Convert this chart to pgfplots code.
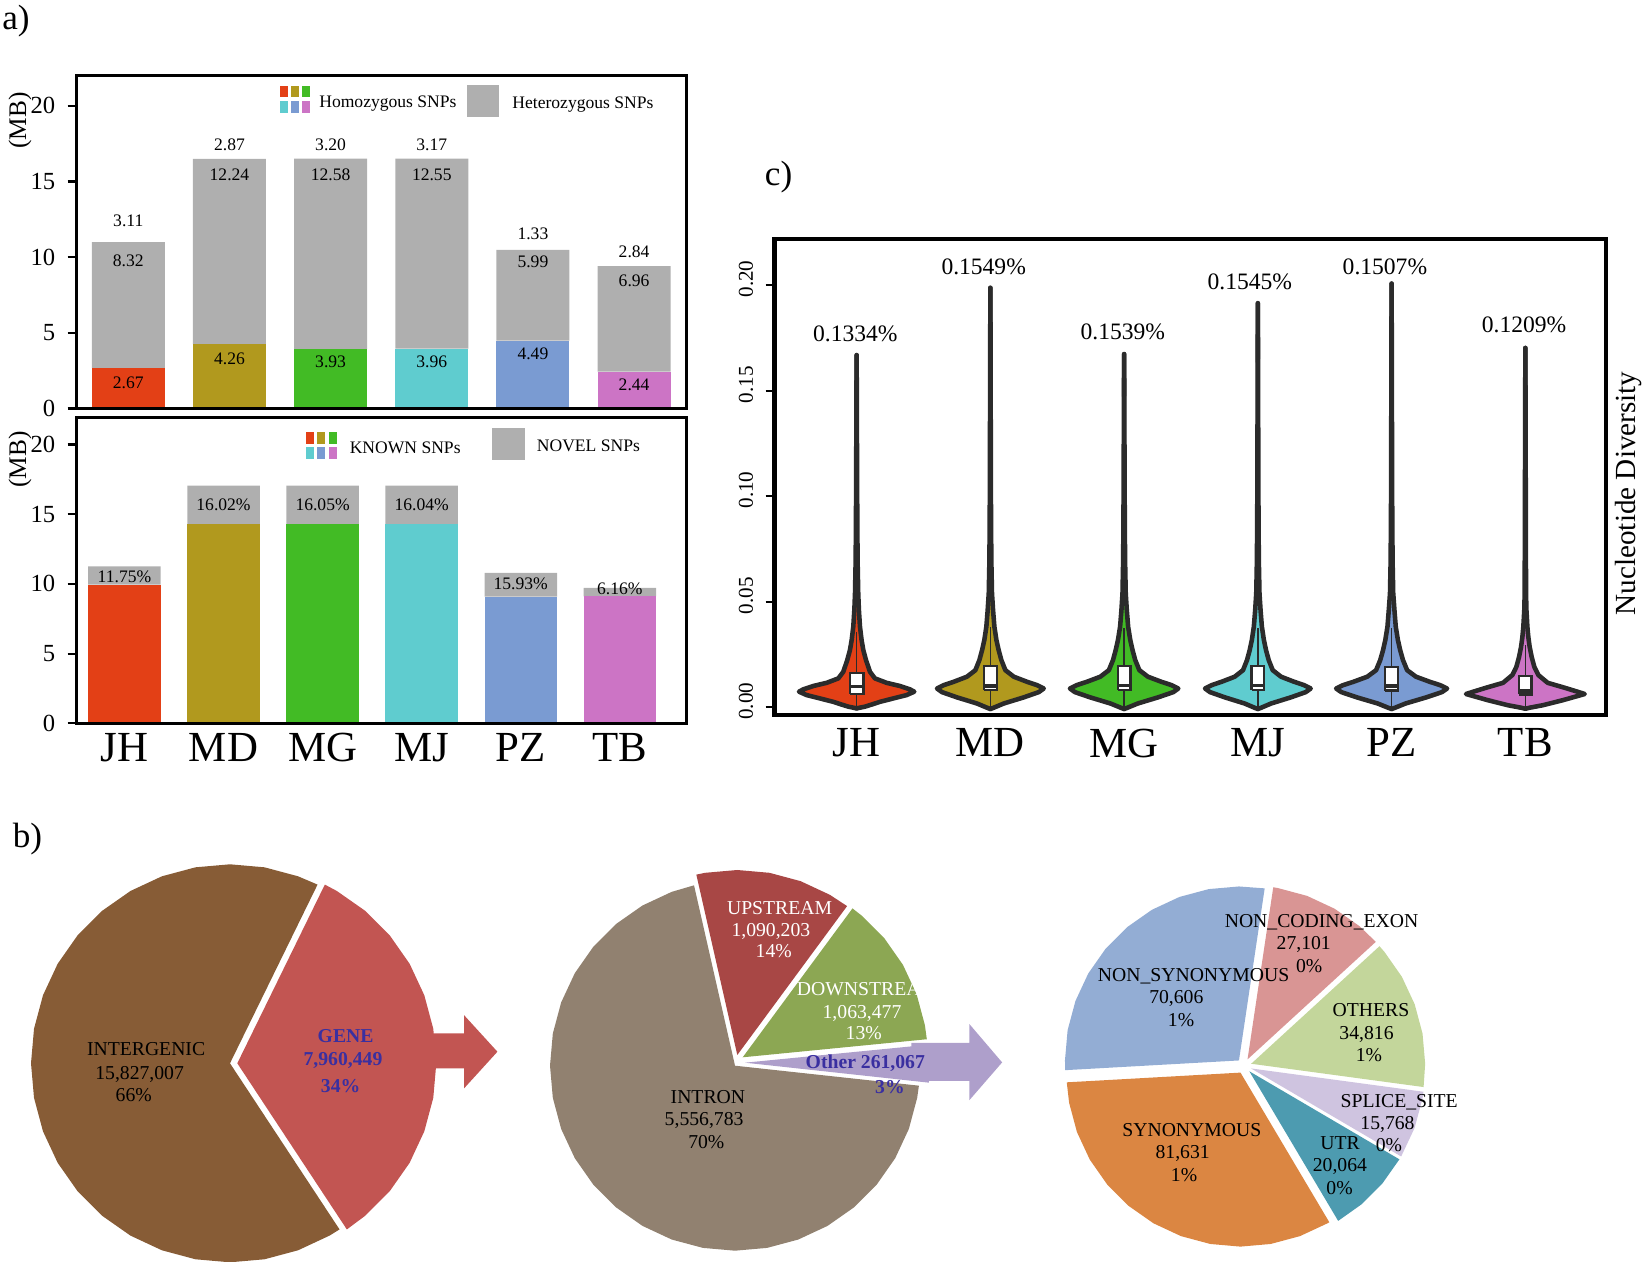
\documentclass[border=0pt]{standalone}
\usepackage{fontspec}
\setmainfont{Liberation Serif}
\usepackage{pgfplots}
\usepackage{pgfplotstable}
\pgfplotsset{compat=1.18}
\usepgfplotslibrary{polar}

\definecolor{cJH}{HTML}{E34016}
\definecolor{cMD}{HTML}{B1991E}
\definecolor{cMG}{HTML}{42BB25}
\definecolor{cMJ}{HTML}{5FCCCF}
\definecolor{cPZ}{HTML}{7A9BD2}
\definecolor{cTB}{HTML}{CC74C5}
\definecolor{cgray}{HTML}{AFAFAF}
\definecolor{vline}{HTML}{2B2B2B}
\definecolor{inter}{HTML}{875C36}
\definecolor{gene}{HTML}{C25552}
\definecolor{bluetxt}{HTML}{3A2FA0}
\definecolor{intron}{HTML}{918170}
\definecolor{upst}{HTML}{A84745}
\definecolor{downst}{HTML}{8CA753}
\definecolor{other}{HTML}{AE9FCB}
\definecolor{nsyn}{HTML}{93ADD4}
\definecolor{nce}{HTML}{D99594}
\definecolor{oth}{HTML}{C3D69B}
\definecolor{ssite}{HTML}{CFC4E0}
\definecolor{utr}{HTML}{4D9BB0}
\definecolor{syn}{HTML}{DB8642}

% violin outlines: y and half width (category units)
\pgfplotstableread{
y w
-0.0006 0
0.0002 0.062
0.0017 0.137
0.0025 0.175
0.0041 0.274
0.0057 0.374
0.0073 0.431
0.0084 0.399
0.0100 0.324
0.0115 0.224
0.0136 0.137
0.0167 0.100
0.0223 0.070
0.0270 0.050
0.0318 0.037
0.0381 0.025
0.0460 0.017
0.0539 0.012
0.0700 0.007
0.1000 0.004
0.1668 0
}\vJH
\pgfplotstableread{
y w
-0.0009 0
-0.0003 0.025
0.0017 0.100
0.0046 0.249
0.0071 0.362
0.0088 0.399
0.0104 0.349
0.0120 0.274
0.0144 0.175
0.0175 0.112
0.0223 0.082
0.0270 0.062
0.0318 0.045
0.0381 0.030
0.0460 0.020
0.0540 0.012
0.0700 0.007
0.1000 0.004
0.1987 0
}\vMD
\pgfplotstableread{
y w
-0.0009 0
-0.0003 0.025
0.0017 0.102
0.0046 0.253
0.0071 0.368
0.0088 0.405
0.0104 0.355
0.0120 0.278
0.0144 0.178
0.0175 0.114
0.0223 0.083
0.0270 0.063
0.0318 0.046
0.0381 0.030
0.0460 0.020
0.0540 0.012
0.0700 0.007
0.1000 0.004
0.1673 0
}\vMG
\pgfplotstableread{
y w
-0.0009 0
-0.0003 0.025
0.0017 0.099
0.0046 0.246
0.0071 0.358
0.0088 0.395
0.0104 0.346
0.0120 0.271
0.0144 0.173
0.0175 0.111
0.0223 0.081
0.0270 0.061
0.0318 0.045
0.0381 0.030
0.0460 0.020
0.0540 0.012
0.0700 0.007
0.1000 0.004
0.1914 0
}\vMJ
\pgfplotstableread{
y w
-0.0009 0
-0.0003 0.026
0.0017 0.104
0.0046 0.259
0.0071 0.376
0.0088 0.415
0.0104 0.363
0.0120 0.285
0.0144 0.182
0.0175 0.116
0.0223 0.085
0.0270 0.064
0.0318 0.047
0.0381 0.031
0.0460 0.021
0.0540 0.012
0.0700 0.007
0.1000 0.004
0.2007 0
}\vPZ
\pgfplotstableread{
y w
-0.0008 0
-0.0003 0.032
0.0009 0.132
0.0033 0.282
0.0062 0.444
0.0076 0.374
0.0092 0.292
0.0115 0.167
0.0152 0.097
0.0191 0.067
0.0238 0.047
0.0286 0.032
0.0333 0.022
0.0381 0.015
0.0460 0.008
0.0540 0.005
0.1000 0.003
0.1702 0
}\vTB

\tikzset{
  lbl/.style={font=\fontsize{5}{6}\selectfont, text depth=0pt, inner sep=0pt},
  pl/.style={font=\fontsize{5.6}{6.5}\selectfont, text depth=0pt, inner sep=0pt},
  pb/.style={font=\fontsize{5.6}{6.5}\selectfont\bfseries, text depth=0pt, inner sep=0pt, text=bluetxt},
  vl/.style={font=\fontsize{6.7}{8}\selectfont, text depth=0pt, inner sep=0pt},
}
\pgfplotsset{
  /pgf/number format/assume math mode=true,
  barpanel/.style={
    scale only axis, anchor=south west, width=6.10cm,
    ybar stacked, bar width=0.73cm,
    xmin=-0.51, xmax=5.52, ymin=0,
    ytick={0,5,10,15,20}, ytick pos=left, tick align=outside,
    major tick length=0.09cm, axis on top,
    axis line style={line width=0.85pt},
    xtick style={draw=none},
    major tick style={line width=0.6pt, black},
    yticklabel style={font=\fontsize{7}{8}\selectfont},
  },
  pie/.style={scale only axis, anchor=center, hide axis, ymin=0, ymax=1, clip=false},
  vout/.style={draw=vline, line width=1.3pt, line join=round, line cap=round},
  wsk/.style={draw=vline, line width=0.45pt},
  bx/.style={draw=vline, fill=white, line width=0.65pt},
  med/.style={draw=vline, line width=0.9pt},
}

% violin: table, position, colour (each half filled, closed along the centre line)
\newcommand{\violin}[3]{%
  \addplot[fill=#3, draw=none] table[x expr=#2+\thisrow{w}, y=y] {#1};
  \addplot[fill=#3, draw=none] table[x expr=#2-\thisrow{w}+0.004, y=y] {#1};
  \addplot[vout] table[x expr=#2+\thisrow{w}, y=y] {#1};
  \addplot[vout] table[x expr=#2-\thisrow{w}, y=y] {#1};
}
% pie slice: centre x, centre y (cm), diameter (cm), colour, polar coordinates
\newcommand{\slice}[5]{%
  \begin{polaraxis}[pie, at={(#1cm,#2cm)}, width=#3cm, height=#3cm]
    \addplot[fill=#4, draw=none] coordinates {#5};
  \end{polaraxis}%
}

\begin{document}
\begin{tikzpicture}
\path[use as bounding box] (0,0) rectangle (16.46cm,12.62cm);

% ---------- a) top: homozygous / heterozygous ----------
\begin{axis}[barpanel, at={(0.767cm,8.535cm)}, height=3.329cm, ymax=22.0, xtick=\empty,
  after end axis/.code={
    \node[lbl] at (axis cs:0,1.69) {2.67};
    \node[lbl] at (axis cs:1,3.26) {4.26};
    \node[lbl] at (axis cs:2,3.08) {3.93};
    \node[lbl] at (axis cs:3,3.08) {3.96};
    \node[lbl] at (axis cs:4,3.59) {4.49};
    \node[lbl] at (axis cs:5,1.59) {2.44};
    \node[lbl] at (axis cs:0,9.76) {8.32};
    \node[lbl] at (axis cs:1,15.48) {12.24};
    \node[lbl] at (axis cs:2,15.48) {12.58};
    \node[lbl] at (axis cs:3,15.48) {12.55};
    \node[lbl] at (axis cs:4,9.68) {5.99};
    \node[lbl] at (axis cs:5,8.42) {6.96};
    \node[lbl] at (axis cs:0,12.39) {3.11};
    \node[lbl] at (axis cs:1,17.46) {2.87};
    \node[lbl] at (axis cs:2,17.46) {3.20};
    \node[lbl] at (axis cs:3,17.46) {3.17};
    \node[lbl] at (axis cs:4,11.57) {1.33};
    \node[lbl] at (axis cs:5,10.36) {2.84};
  }]
  \addplot[fill=cJH, draw=none] coordinates {(0,2.67) (1,0) (2,0) (3,0) (4,0) (5,0)};
  \addplot[fill=cMD, draw=none] coordinates {(0,0) (1,4.26) (2,0) (3,0) (4,0) (5,0)};
  \addplot[fill=cMG, draw=none] coordinates {(0,0) (1,0) (2,3.93) (3,0) (4,0) (5,0)};
  \addplot[fill=cMJ, draw=none] coordinates {(0,0) (1,0) (2,0) (3,3.96) (4,0) (5,0)};
  \addplot[fill=cPZ, draw=none] coordinates {(0,0) (1,0) (2,0) (3,0) (4,4.49) (5,0)};
  \addplot[fill=cTB, draw=none] coordinates {(0,0) (1,0) (2,0) (3,0) (4,0) (5,2.44)};
  \addplot[fill=cgray, draw=none] coordinates {(0,8.32) (1,12.24) (2,12.58) (3,12.55) (4,5.99) (5,6.96)};
\end{axis}

% ---------- a) bottom: known / novel ----------
\begin{axis}[barpanel, at={(0.767cm,5.387cm)}, height=3.06cm, ymax=21.95,
    xmin=-0.482, xmax=5.675, bar width=0.725cm,
    axis line style={line width=0.95pt},
    xtick={0,1,2,3,4,5}, xticklabels={JH,MD,MG,MJ,PZ,TB},
    xticklabel style={font=\fontsize{12.2}{14}\selectfont, inner sep=0pt, text depth=0pt, anchor=north, yshift=-0.05mm},
  after end axis/.code={
    \node[lbl] at (axis cs:0,10.55) {11.75\%};
    \node[lbl] at (axis cs:1,15.67) {16.02\%};
    \node[lbl] at (axis cs:2,15.67) {16.05\%};
    \node[lbl] at (axis cs:3,15.67) {16.04\%};
    \node[lbl] at (axis cs:4,10.00) {15.93\%};
    \node[lbl] at (axis cs:5,9.68) {6.16\%};
  }]
  \addplot[fill=cJH, draw=none] coordinates {(0,9.95) (1,0) (2,0) (3,0) (4,0) (5,0)};
  \addplot[fill=cMD, draw=none] coordinates {(0,0) (1,14.30) (2,0) (3,0) (4,0) (5,0)};
  \addplot[fill=cMG, draw=none] coordinates {(0,0) (1,0) (2,14.30) (3,0) (4,0) (5,0)};
  \addplot[fill=cMJ, draw=none] coordinates {(0,0) (1,0) (2,0) (3,14.30) (4,0) (5,0)};
  \addplot[fill=cPZ, draw=none] coordinates {(0,0) (1,0) (2,0) (3,0) (4,9.09) (5,0)};
  \addplot[fill=cTB, draw=none] coordinates {(0,0) (1,0) (2,0) (3,0) (4,0) (5,9.11)};
  \addplot[fill=cgray, draw=none] coordinates {(0,1.31) (1,2.75) (2,2.75) (3,2.75) (4,1.70) (5,0.60)};
\end{axis}

% ---------- c) violins ----------
\begin{axis}[scale only axis, anchor=south west, at={(7.745cm,5.473cm)},
    width=8.311cm, height=4.754cm,
    xmin=-0.614, xmax=5.60, ymin=-0.0036, ymax=0.2217,
    xtick={0,1,2,3,4,5}, xticklabels={JH,MD,MG,MJ,PZ,TB},
    xtick style={draw=none},
    xticklabel style={font=\fontsize{12.2}{14}\selectfont, inner sep=0pt, text depth=0pt, anchor=north, yshift=-0.43mm},
    ytick={0,0.05,0.1,0.15,0.2}, ytick pos=left, tick align=outside,
    major tick length=0.09cm, major tick style={line width=0.6pt, black},
    yticklabel style={rotate=90, anchor=south, xshift=0.6mm, font=\fontsize{6}{7}\selectfont,
      /pgf/number format/fixed, /pgf/number format/fixed zerofill, /pgf/number format/precision=2},
    axis line style={line width=1.15pt}, axis on top]
  \violin{\vJH}{0}{cJH}
  \violin{\vMD}{1}{cMD}
  \violin{\vMG}{2}{cMG}
  \violin{\vMJ}{3}{cMJ}
  \violin{\vPZ}{4}{cPZ}
  \violin{\vTB}{5}{cTB}
  % box plots: whisker, box (q1 to q3), median
  \addplot[wsk] coordinates {(0,-0.0006) (0,0.0357)};
  \addplot[bx] coordinates {(-0.052,0.0062) (0.052,0.0062) (0.052,0.0163) (-0.052,0.0163) (-0.052,0.0062)};
  \addplot[med] coordinates {(-0.052,0.0096) (0.052,0.0096)};
  \addplot[wsk] coordinates {(1,-0.0009) (1,0.0380)};
  \addplot[bx] coordinates {(0.953,0.0081) (1.047,0.0081) (1.047,0.0194) (0.953,0.0194) (0.953,0.0081)};
  \addplot[med] coordinates {(0.953,0.0100) (1.047,0.0100)};
  \addplot[wsk] coordinates {(2,-0.0009) (2,0.0375)};
  \addplot[bx] coordinates {(1.953,0.0081) (2.047,0.0081) (2.047,0.0194) (1.953,0.0194) (1.953,0.0081)};
  \addplot[med] coordinates {(1.953,0.0102) (2.047,0.0102)};
  \addplot[wsk] coordinates {(3,-0.0009) (3,0.0375)};
  \addplot[bx] coordinates {(2.953,0.0081) (3.047,0.0081) (3.047,0.0194) (2.953,0.0194) (2.953,0.0081)};
  \addplot[med] coordinates {(2.953,0.0102) (3.047,0.0102)};
  \addplot[wsk] coordinates {(4,-0.0009) (4,0.0375)};
  \addplot[bx] coordinates {(3.953,0.0078) (4.047,0.0078) (4.047,0.0190) (3.953,0.0190) (3.953,0.0078)};
  \addplot[med] coordinates {(3.953,0.0100) (4.047,0.0100)};
  \addplot[wsk] coordinates {(5,-0.0008) (5,0.0294)};
  \addplot[bx] coordinates {(4.955,0.0060) (5.045,0.0060) (5.045,0.0147) (4.955,0.0147) (4.955,0.0060)};
  \addplot[med] coordinates {(4.955,0.0076) (5.045,0.0076)};
  \node[vl] at (axis cs:-0.01,0.1771) {0.1334\%};
  \node[vl] at (axis cs:0.95,0.2087) {0.1549\%};
  \node[vl] at (axis cs:1.99,0.1779) {0.1539\%};
  \node[vl] at (axis cs:2.94,0.2016) {0.1545\%};
  \node[vl] at (axis cs:3.95,0.2087) {0.1507\%};
  \node[vl] at (axis cs:4.99,0.1810) {0.1209\%};
\end{axis}

% ---------- b) pies ----------
\slice{2.30}{1.987}{3.98}{inter}{(0,0) (63.9,1) (70,1) (80,1) (90,1) (100,1) (110,1) (120,1) (130,1) (140,1) (150,1) (160,1) (170,1) (180,1) (190,1) (200,1) (210,1) (220,1) (230,1) (240,1) (250,1) (260,1) (270,1) (280,1) (290,1) (300,1) (303.4,1)}
\slice{2.373}{1.987}{3.98}{gene}{(0,0) (-56.6,1) (-50,1) (-40,1) (-30,1) (-20,1) (-10,1) (0,1) (10,1) (20,1) (30,1) (40,1) (50,1) (60,1) (63.9,1)}

\slice{7.35}{1.963}{3.70}{intron}{(0,0) (102.8,1) (110,1) (120,1) (130,1) (140,1) (150,1) (160,1) (170,1) (180,1) (190,1) (200,1) (210,1) (220,1) (230,1) (240,1) (250,1) (260,1) (270,1) (280,1) (290,1) (300,1) (310,1) (320,1) (330,1) (340,1) (350,1) (353.8,1)}
\slice{7.373}{2.070}{3.70}{upst}{(0,0) (53.6,1) (60,1) (70,1) (80,1) (90,1) (100,1) (102.8,1)}
\slice{7.427}{2.047}{3.70}{downst}{(0,0) (5.6,1) (10,1) (20,1) (30,1) (40,1) (50,1) (53.6,1)}
\slice{7.45}{1.993}{3.70}{other}{(0,0) (-6.2,1) (0,1) (5.6,1)}

\slice{12.3895}{2.0154}{3.48}{nsyn}{(0,0) (81.5,1) (90,1) (100,1) (110,1) (120,1) (130,1) (140,1) (150,1) (160,1) (170,1) (180,1) (183.2,1)}
\slice{12.4752}{2.0262}{3.48}{nce}{(0,0) (42.5,1) (50,1) (60,1) (70,1) (80,1) (81.5,1)}
\slice{12.5116}{1.9824}{3.48}{oth}{(0,0) (-7.7,1) (0,1) (10,1) (20,1) (30,1) (40,1) (42.5,1)}
\slice{12.5109}{1.9355}{3.48}{ssite}{(0,0) (-30.4,1) (-20,1) (-10,1) (-7.7,1)}
\slice{12.4932}{1.9071}{3.48}{utr}{(0,0) (-59.3,1) (-50,1) (-40,1) (-30.4,1)}
\slice{12.4047}{1.8938}{3.48}{syn}{(0,0) (-176.8,1) (-170,1) (-160,1) (-150,1) (-140,1) (-130,1) (-120,1) (-110,1) (-100,1) (-90,1) (-80,1) (-70,1) (-60,1) (-59.3,1)}

% ---------- texts, legends, arrows ----------
\begin{scope}[x=0.01cm, y=0.01cm]
  \node[font=\fontsize{10}{12}\selectfont] at (16,1242) {a)};
  \node[font=\fontsize{10}{12}\selectfont] at (27.5,423) {b)};
  \node[font=\fontsize{10}{12}\selectfont] at (779,1085.6) {c)};
  \node[rotate=90, font=\fontsize{7.2}{8}\selectfont] at (20,1142) {(MB)};
  \node[rotate=90, font=\fontsize{7.2}{8}\selectfont] at (20,803) {(MB)};
  \node[rotate=90, font=\fontsize{8.3}{10}\selectfont] at (1629,769) {Nucleotide Diversity};

  % legend, top panel
  \fill[cJH] (280,1165.3) rectangle (288,1177);
  \fill[cMD] (291,1165.3) rectangle (299,1177);
  \fill[cMG] (302,1165.3) rectangle (310,1177);
  \fill[cMJ] (280,1149.3) rectangle (288,1161.3);
  \fill[cPZ] (291,1149.3) rectangle (299,1161.3);
  \fill[cTB] (302,1149.3) rectangle (310,1161.3);
  \node[lbl, anchor=west] at (318.8,1161.3) {Homozygous SNPs};
  \fill[cgray] (467,1145.3) rectangle (499.3,1178);
  \node[lbl, anchor=west] at (512,1160.3) {Heterozygous SNPs};
  % legend, bottom panel
  \fill[cJH] (305.9,818.7) rectangle (313.9,830.3);
  \fill[cMD] (317,818.7) rectangle (325,830.3);
  \fill[cMG] (329,818.7) rectangle (337.2,830.3);
  \fill[cMJ] (305.9,803.3) rectangle (313.9,815.3);
  \fill[cPZ] (317,803.3) rectangle (325,815.3);
  \fill[cTB] (329,803.3) rectangle (337.2,815.3);
  \node[lbl, anchor=west] at (349.3,814.3) {KNOWN SNPs};
  \fill[cgray] (492.6,802) rectangle (525.3,834.7);
  \node[lbl, anchor=west] at (536.5,816.3) {NOVEL SNPs};

  % arrows
  \fill[gene] (415,193.7) -- (464.3,193.7) -- (464.3,173.7) -- (497.7,210.4) -- (464.3,247) -- (464.3,228.7) -- (415,228.7) -- cycle;
  \fill[other] (912,181.3) -- (970,181.3) -- (970,162) -- (1002.7,199.7) -- (970,238) -- (970,219.3) -- (912,219.3) -- cycle;

  % pie 1
  \node[pl] at (146.2,212.7) {INTERGENIC};
  \node[pl] at (139.7,188.7) {15,827,007};
  \node[pl] at (133.8,167) {66\%};
  \node[pb] at (345.8,226) {GENE};
  \node[pb] at (343.2,202.7) {7,960,449};
  \node[pb] at (340.8,176.3) {34\%};
  % pie 2
  \node[pl, text=white] at (780,354.7) {UPSTREAM};
  \node[pl, text=white] at (771.3,332.7) {1,090,203};
  \node[pl, text=white] at (774.2,311.3) {14\%};
  \node[pl, text=white] at (868,272.7) {DOWNSTREAM};
  \node[pl, text=white] at (862.5,250.3) {1,063,477};
  \node[pl, text=white] at (864.2,228.7) {13\%};
  \node[pb] at (865.8,200.3) {Other 261,067};
  \node[pb] at (890.5,175.3) {3\%};
  \node[pl] at (708.3,164.7) {INTRON};
  \node[pl] at (704.5,142.7) {5,556,783};
  \node[pl] at (706.7,120.3) {70\%};
  % pie 3
  \node[pl] at (1322.3,341) {NON\_CODING\_EXON};
  \node[pl] at (1304.5,319.3) {27,101};
  \node[pl] at (1310,296) {0\%};
  \node[pl] at (1194.3,287) {NON\_SYNONYMOUS};
  \node[pl] at (1177,265.3) {70,606};
  \node[pl] at (1181.7,242) {1\%};
  \node[pl] at (1371.7,252) {OTHERS};
  \node[pl] at (1367.3,229.3) {34,816};
  \node[pl] at (1369.7,207) {1\%};
  \node[pl] at (1400,161.3) {SPLICE\_SITE};
  \node[pl] at (1388.3,138.7) {15,768};
  \node[pl] at (1389.7,117) {0\%};
  \node[pl] at (1340.8,118.7) {UTR};
  \node[pl] at (1340.7,97) {20,064};
  \node[pl] at (1340.3,73.7) {0\%};
  \node[pl] at (1192.5,132) {SYNONYMOUS};
  \node[pl] at (1183.3,109.7) {81,631};
  \node[pl] at (1184.7,87) {1\%};
\end{scope}
\end{tikzpicture}
\end{document}
